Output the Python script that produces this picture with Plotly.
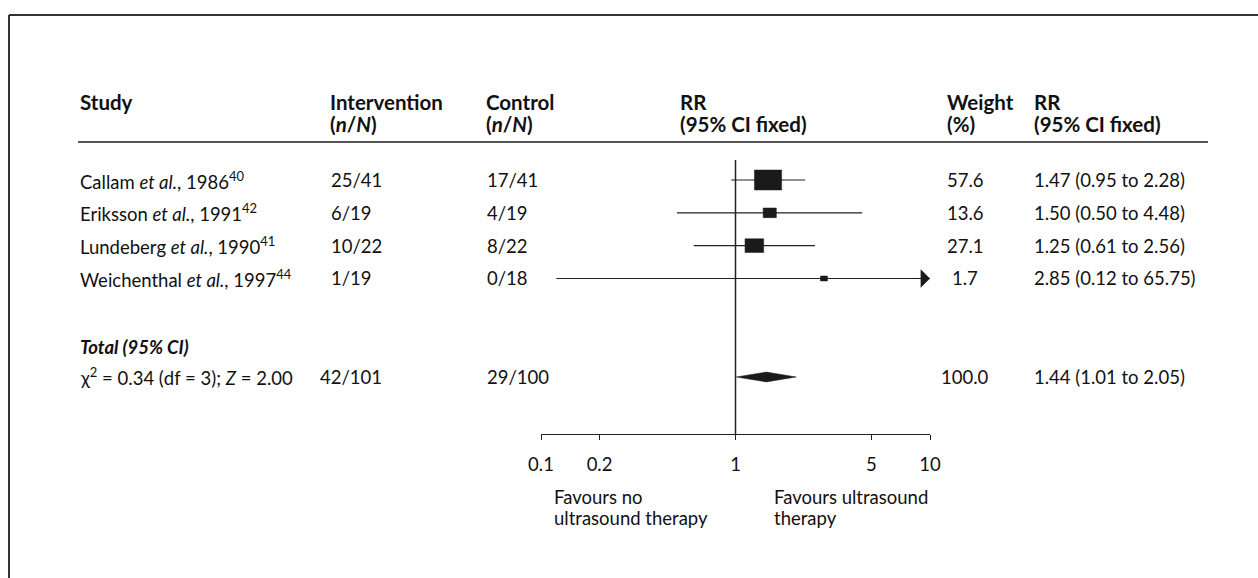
import numpy as np
import plotly.graph_objects as go

# ---------------- data ----------------
studies = [
    "Callam <i>et al.</i>, 1986<sup>40</sup>",
    "Eriksson <i>et al.</i>, 1991<sup>42</sup>",
    "Lundeberg <i>et al.</i>, 1990<sup>41</sup>",
    "Weichenthal <i>et al.</i>, 1997<sup>44</sup>",
]
intervention = ["25/41", "6/19", "10/22", "1/19"]
control = ["17/41", "4/19", "8/22", "0/18"]
rr = [1.47, 1.50, 1.25, 2.85]
rr_lo = [0.95, 0.50, 0.61, 0.12]
rr_hi = [2.28, 4.48, 2.56, 65.75]
weight = [57.6, 13.6, 27.1, 1.7]

total_label = "<b><i>Total (95% CI)</i></b>"
het_text = "\u03c7<sup>2</sup> = 0.34 (df = 3); <i>Z</i> = 2.00"
total_int = "42/101"
total_ctrl = "29/100"
total_rr, total_lo, total_hi = 1.44, 1.01, 2.05
total_weight = 100.0

tick_vals = [0.1, 0.2, 1, 5, 10]
tick_text = ["0.1", "0.2", "1", "5", "10"]

headers = [
    ("Study", ""),
    ("Intervention", "(<i>n</i>/<i>N</i>)"),
    ("Control", "(<i>n</i>/<i>N</i>)"),
    ("RR", "(95% CI fixed)"),
    ("Weight", "(%)"),
    ("RR", "(95% CI fixed)"),
]
favours_left = ["Favours no", "ultrasound therapy"]
favours_right = ["Favours ultrasound", "therapy"]

# ---------------- layout geometry ----------------
W, H = 1258, 578
FONT = "Lato"
FS = 18.5
HFS = 20.5
TXT = "#111111"
ROW0_PX, ROW_STEP = 180, 32.83
AXIS_PX = 434
study_rows = list(range(len(studies)))
total_label_row = 5.1
summary_row = 6.0

def px(x):
    return x / W

def py(y):
    return 1 - y / H

x_min, x_max = tick_vals[0], tick_vals[-1]
y_bottom = (AXIS_PX - ROW0_PX) / ROW_STEP
y_top = -ROW0_PX / ROW_STEP

fig = go.Figure()

# confidence-interval lines
cx, cy = [], []
for r, lo, hi in zip(study_rows, rr_lo, rr_hi):
    cx += [lo, hi, None]
    cy += [r, r, None]
fig.add_trace(go.Scatter(x=cx, y=cy, mode="lines",
                         line=dict(color="#222222", width=1.2),
                         hoverinfo="skip", showlegend=False))

# weight boxes (area grows with weight)
bx, by = [], []
for r, v, w in zip(study_rows, rr, weight):
    hw = max(0.0092 * np.sqrt(w), 0.018)
    hh = max(0.040 * np.sqrt(w), 0.075)
    f = 10 ** hw
    bx += [v / f, v * f, v * f, v / f, v / f, None]
    by += [r - hh, r - hh, r + hh, r + hh, r - hh, None]
fig.add_trace(go.Scatter(x=bx, y=by, mode="lines", fill="toself",
                         fillcolor="#1a1a1a", line=dict(color="#1a1a1a", width=0.5),
                         hoverinfo="skip", showlegend=False))

# line of no effect
fig.add_trace(go.Scatter(x=[1, 1], y=[-0.61, y_bottom], mode="lines",
                         line=dict(color="#222222", width=1.5),
                         hoverinfo="skip", showlegend=False))

# summary diamond
dh = 0.15
fig.add_trace(go.Scatter(
    x=[total_lo, total_rr, total_hi, total_rr, total_lo],
    y=[summary_row, summary_row - dh, summary_row, summary_row + dh, summary_row],
    mode="lines", fill="toself", fillcolor="#1a1a1a",
    line=dict(color="#1a1a1a", width=0.5), hoverinfo="skip", showlegend=False))

ann = []

# arrows for intervals running past the axis
for r, lo, hi in zip(study_rows, rr_lo, rr_hi):
    if hi > x_max:
        ann.append(dict(x=np.log10(x_max), y=r, xref="x", yref="y",
                        ax=np.log10(x_max) - 0.1, ay=r, axref="x", ayref="y",
                        text="", showarrow=True, arrowhead=1, arrowsize=2.6,
                        arrowwidth=1.2, arrowcolor="#1a1a1a", standoff=0))

def t(text, x, y, xanchor="left", yref="y", size=FS, yanchor="middle", align="left"):
    ann.append(dict(text=text, x=px(x), y=y, xref="paper", yref=yref,
                    xanchor=xanchor, yanchor=yanchor, showarrow=False, align=align,
                    font=dict(family=FONT, size=size, color=TXT)))

# headers
col_x = [78, 328, 484, 678, 945, 1032]
for (h1, h2), x in zip(headers, col_x):
    t("<b>" + h1 + "</b>", x, py(102), yref="paper", size=HFS)
    if h2:
        t("<b>" + h2 + "</b>", x, py(124), yref="paper", size=HFS)

# study rows
for r, s, i, c, v, lo, hi, w in zip(study_rows, studies, intervention, control,
                                     rr, rr_lo, rr_hi, weight):
    t(s, 78, r)
    t(i, 329, r)
    t(c, 485, r)
    t(f"{w:.1f}", 965, r, xanchor="center")
    t(f"{v:.2f} ({lo:.2f} to {hi:.2f})", 1032, r)

# total rows
t(total_label, 78, total_label_row)
t(het_text, 78, summary_row)
t(total_int, 318, summary_row)
t(total_ctrl, 485, summary_row)
t(f"{total_weight:.1f}", 965, summary_row, xanchor="center")
t(f"{total_rr:.2f} ({total_lo:.2f} to {total_hi:.2f})", 1032, summary_row)

# favours labels
for k, line in enumerate(favours_left):
    t(line, 552, py(497 + 21 * k), yref="paper")
for k, line in enumerate(favours_right):
    t(line, 772, py(497 + 21 * k), yref="paper")

shapes = [
    # header rule
    dict(type="line", xref="paper", yref="paper", x0=px(78), x1=px(1208),
         y0=py(142), y1=py(142), line=dict(color="#555555", width=2)),
    # frame (top and left edges)
    dict(type="line", xref="paper", yref="paper", x0=px(9), x1=1.0,
         y0=py(15), y1=py(15), line=dict(color="#333333", width=2)),
    dict(type="line", xref="paper", yref="paper", x0=px(9), x1=px(9),
         y0=py(15), y1=0.0, line=dict(color="#333333", width=2)),
]

fig.update_layout(
    width=W, height=H,
    margin=dict(l=0, r=0, t=0, b=0, pad=0, autoexpand=False),
    paper_bgcolor="white", plot_bgcolor="white",
    showlegend=False,
    annotations=ann, shapes=shapes,
    xaxis=dict(type="log", range=[np.log10(x_min), np.log10(x_max)],
               domain=[px(541), px(930)], anchor="y", automargin=False,
               tickvals=tick_vals, ticktext=tick_text,
               ticks="outside", ticklen=5, tickwidth=1.3, tickcolor="#222222",
               ticklabelstandoff=9,
               showline=True, linecolor="#222222", linewidth=1.3,
               showgrid=False, zeroline=False,
               tickfont=dict(family=FONT, size=FS, color=TXT)),
    yaxis=dict(range=[y_bottom, y_top], domain=[1 - AXIS_PX / H, 1],
               automargin=False, visible=False, showgrid=False, zeroline=False),
)

fig.write_html(
    "out.html",
    config={"displayModeBar": False},
    post_script="document.body.style.margin='0';document.body.style.overflow='hidden';",
)
